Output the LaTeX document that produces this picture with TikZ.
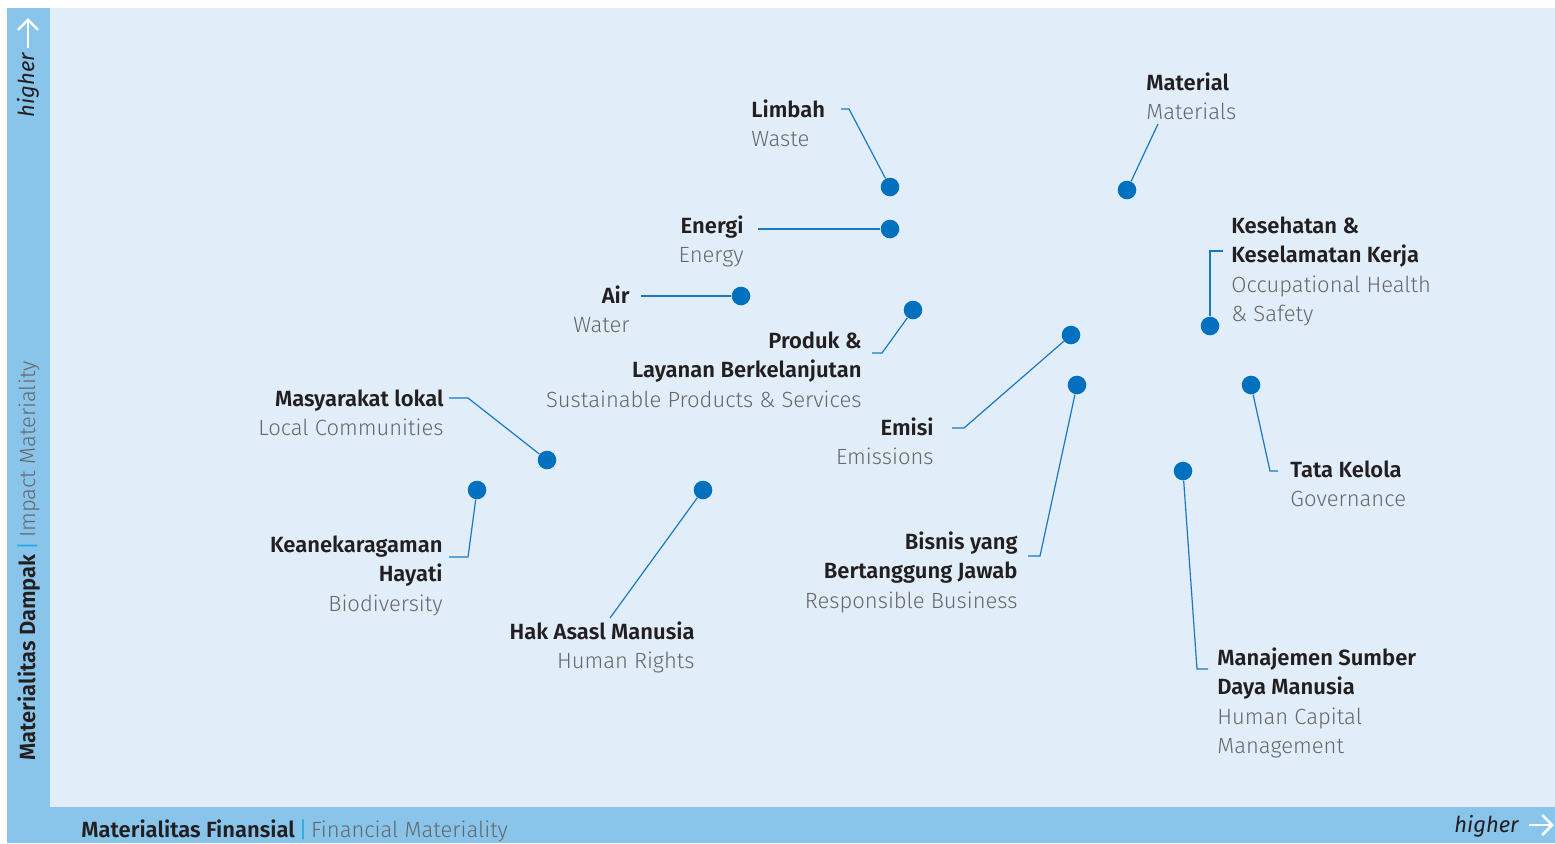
\documentclass[tikz,border=0pt]{standalone}
\usepackage{fontspec}
\setmainfont{Fira Sans}[BoldFont={Fira Sans SemiBold}]
\newfontfamily\lightfont{Fira Sans Light}
\usetikzlibrary{arrows.meta}

\definecolor{paleblue}{HTML}{E1EEF9}
\definecolor{barblue}{HTML}{89C5EB}
\definecolor{dotblue}{HTML}{0070BF}
\definecolor{leadblue}{HTML}{1A78C2}
\definecolor{darktxt}{HTML}{231F20}
\definecolor{greytxt}{HTML}{66676A}
\definecolor{sepblue}{HTML}{29ABE2}

\newcommand{\engl}[1]{{\lightfont\color{greytxt}#1}}

\begin{document}
\begin{tikzpicture}[x=0.5pt, y=-0.5pt,
    every node/.style={inner sep=0pt, text=darktxt, font=\fontsize{11}{14.75}\selectfont},
    dot/.style={circle, fill=dotblue, minimum size=9.3pt},
    lead/.style={draw=leadblue, line width=0.6pt},
    lblL/.style={anchor=base west, align=left},
    lblR/.style={anchor=base east, align=right},
    axarrow/.style={draw=white, line width=1.3pt, -{Straight Barb[length=5pt, width=10pt]}}]

    \useasboundingbox (0,0) rectangle (1555,843);

    % Background
    \fill[paleblue] (50,8) rectangle (1555,807);
    \fill[barblue] (7,8) rectangle (50,843);
    \fill[barblue] (7,807) rectangle (1555,843);

    % Axis labels
    \node (yaxis) [rotate=90, anchor=base west] at (35,761)
        {\textbf{Materialitas Dampak}\,{\color{sepblue}|}\,\engl{Impact Materiality}};
    \node (xaxis) [anchor=base west] at (81,837)
        {\textbf{Materialitas Finansial}\,{\color{sepblue}|}\,\engl{Financial Materiality}};
    \node (yhigher) [rotate=90] at (28,85) {\itshape higher};
    \node (xhigher) [anchor=east] at (1519,826) {\itshape higher};
    \coordinate (yfrom) at (28,48);
    \coordinate (yto) at (28,18);
    \coordinate (xfrom) at (1529,825);
    \coordinate (xto) at (1554,825);

    % Dots
    \node (dLimbah) [dot] at (890,187) {};
    \node (dEnergi) [dot] at (890,229) {};
    \node (dMaterial) [dot] at (1127,190) {};
    \node (dAir) [dot] at (741,296) {};
    \node (dProduk) [dot] at (913,310) {};
    \node (dEmisi) [dot] at (1071,335) {};
    \node (dKesehatan) [dot] at (1210,326) {};
    \node (dBisnis) [dot] at (1077,385) {};
    \node (dTata) [dot] at (1251,385) {};
    \node (dMasyarakat) [dot] at (547,460) {};
    \node (dKeaneka) [dot] at (477,490) {};
    \node (dHak) [dot] at (703,490) {};
    \node (dManajemen) [dot] at (1183,471) {};

    % Labels (anchored at the baseline of the last line)
    \node (Limbah) [lblL] at (751,146.5) {\textbf{Limbah}\\\engl{Waste}};
    \node (Material) [lblL] at (1146,119.5) {\textbf{Material}\\\engl{Materials}};
    \node (Energi) [lblR] at (744,262.5) {\textbf{Energi}\\\engl{Energy}};
    \node (Kesehatan) [lblL] at (1231,321.5)
        {\textbf{Kesehatan \&}\\\textbf{Keselamatan Kerja}\\\engl{Occupational Health}\\\engl{\& Safety}};
    \node (Air) [lblR] at (630,332.5) {\textbf{Air}\\\engl{Water}};
    \node (Produk) [lblR] at (862,407)
        {\textbf{Produk \&}\\\textbf{Layanan Berkelanjutan}\\\engl{Sustainable Products \& Services}};
    \node (Masyarakat) [lblR] at (444,435.5) {\textbf{Masyarakat lokal}\\\engl{Local Communities}};
    \node (Emisi) [lblR] at (934,464.5) {\textbf{Emisi}\\\engl{Emissions}};
    \node (Tata) [lblL] at (1290,506.5) {\textbf{Tata Kelola}\\\engl{Governance}};
    \node (Keaneka) [lblR] at (443,611)
        {\textbf{Keanekaragaman}\\\textbf{Hayati}\\\engl{Biodiversity}};
    \node (Hak) [lblR] at (695,668.5) {\textbf{Hak Asasl Manusia}\\\engl{Human Rights}};
    \node (Bisnis) [lblR] at (1018,608)
        {\textbf{Bisnis yang}\\\textbf{Bertanggung Jawab}\\\engl{Responsible Business}};
    \node (Manajemen) [lblL] at (1217,753.5)
        {\textbf{Manajemen Sumber}\\\textbf{Daya Manusia}\\\engl{Human Capital}\\\engl{Management}};

    % Leader ends
    \coordinate (tLimbah) at (841,109);
    \coordinate (tEnergi) at (758,229);
    \coordinate (tMaterial) at (1158,124);
    \coordinate (tKesehatan) at (1223,251);
    \coordinate (tAir) at (641,296);
    \coordinate (tProduk) at (872,353);
    \coordinate (tMasyarakat) at (449,398);
    \coordinate (tKeaneka) at (449,557);
    \coordinate (tHak) at (610,618);
    \coordinate (tEmisi) at (952,428);
    \coordinate (tBisnis) at (1028,556);
    \coordinate (tTata) at (1278,471);
    \coordinate (tManajemen) at (1208,669);

    % Leaders
    \draw[lead] (tLimbah) -- ++(8,0) -- (dLimbah);
    \draw[lead] (tEnergi) -- (dEnergi);
    \draw[lead] (tMaterial) -- (dMaterial);
    \draw[lead] (tKesehatan) -- ++(-13,0) -- (dKesehatan);
    \draw[lead] (tAir) -- (dAir);
    \draw[lead] (tProduk) -- ++(10,0) -- (dProduk);
    \draw[lead] (tMasyarakat) -- ++(19,0) -- (dMasyarakat);
    \draw[lead] (tKeaneka) -- ++(19,0) -- (dKeaneka);
    \draw[lead] (tHak) -- (dHak);
    \draw[lead] (tEmisi) -- ++(12,0) -- (dEmisi);
    \draw[lead] (tBisnis) -- ++(12,0) -- (dBisnis);
    \draw[lead] (tTata) -- ++(-8,0) -- (dTata);
    \draw[lead] (tManajemen) -- ++(-11,0) -- (dManajemen);

    % Axis arrows
    \draw[axarrow] (yfrom) -- (yto);
    \draw[axarrow] (xfrom) -- (xto);

\end{tikzpicture}
\end{document}
